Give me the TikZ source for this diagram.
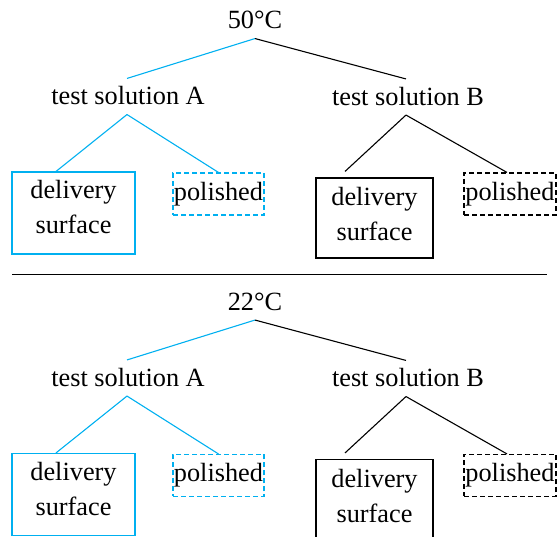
\documentclass[tikz,border=0pt]{standalone}
\usepackage{fontspec}
\setmainfont{Liberation Serif}
\newfontfamily\romana{Liberation Serif}
\usepackage{xcolor}
\definecolor{celeste}{RGB}{0,176,240}

\begin{document}
\begin{tikzpicture}[
  x=1pt, y=-1pt, line width=1.1pt,
  every node/.style={font=\romana\fontsize{26.3}{35}\selectfont},
  txt/.style={inner sep=0pt, text height=26pt, text depth=9pt},
  caja/.style={draw, align=center, inner sep=0pt},
  entrega/.style={caja, text depth=12pt, minimum width=123pt, minimum height=82pt},
  pulido/.style={caja, dash pattern=on 5pt off 3pt, minimum width=91pt, minimum height=42pt},
  azul/.style={draw=celeste}
]
  \useasboundingbox (0,0) rectangle (558,537);
  \foreach \k/\t in {0/50, 1/22} {
    \begin{scope}[yshift=-281.5*\k pt]
      \node[txt] (t\k) at (255,20.5) {\t°C};
      \node[txt] (sA\k) at (128,96.5) {test solution A};
      \node[txt] (sB\k) at (408,97) {test solution B};
      \node[entrega, azul] (dA\k) at (73.5,213) {delivery\\surface};
      \node[pulido, azul] (pA\k) at (218.5,194) {polished};
      \node[entrega, text depth=8pt, minimum width=117pt, minimum height=80pt] (dB\k) at (374.5,218) {delivery\\surface};
      \node[pulido, minimum width=92pt] (pB\k) at (510,194) {polished};
      \draw[celeste] (t\k.south) -- ([xshift=-1pt]sA\k.north);
      \draw (t\k.south) -- ([xshift=-2pt]sB\k.north);
      \draw[celeste] ([xshift=-1pt]sA\k.south) -- ([xshift=-17.5pt]dA\k.north) ([xshift=-1pt]sA\k.south) -- (pA\k.north);
      \draw ([xshift=-2pt]sB\k.south) -- ([xshift=-29.5pt,yshift=6pt]dB\k.north) ([xshift=-2pt]sB\k.south) -- ([xshift=-3pt]pB\k.north);
    \end{scope}
  }
  \draw[line width=1pt] (12,274.5) -- (547,274.5);
\end{tikzpicture}
\end{document}
